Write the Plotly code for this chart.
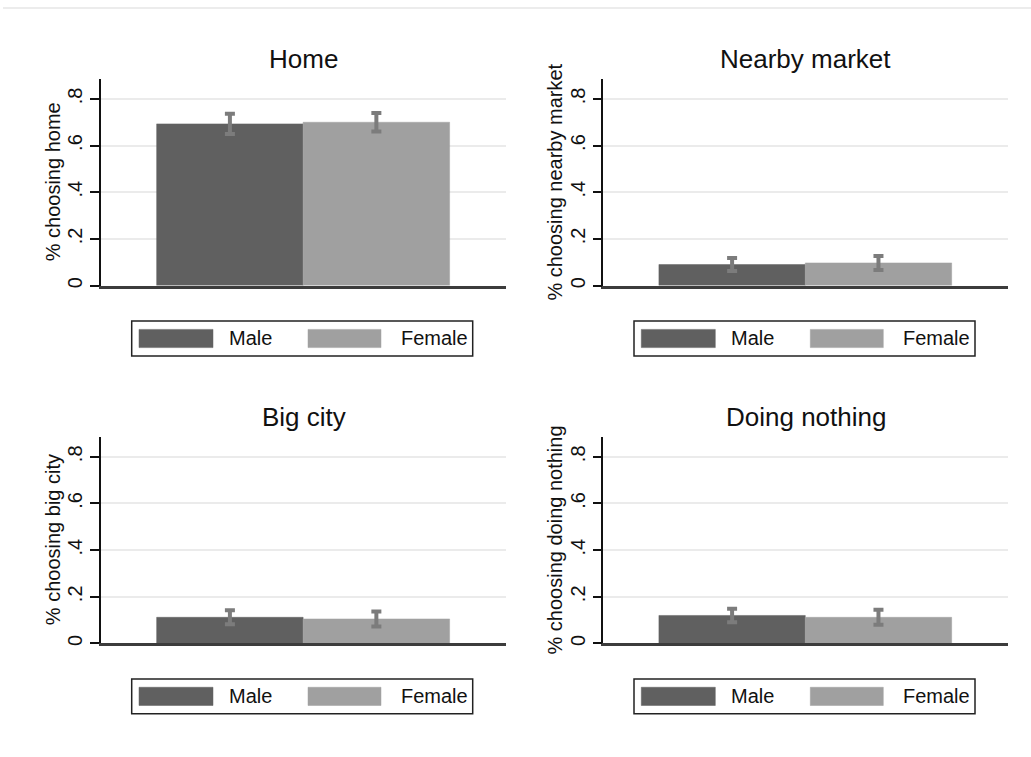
import plotly.graph_objects as go

# Share of respondents choosing each location, by sex, with 95% CI half-widths
categories = ["Home", "Nearby market", "Big city", "Doing nothing"]
y_titles = ["% choosing home", "% choosing nearby market",
            "% choosing big city", "% choosing doing nothing"]
groups = ["Male", "Female"]
male_share = [0.693, 0.090, 0.112, 0.120]
female_share = [0.700, 0.097, 0.105, 0.112]
male_ci = [0.043, 0.028, 0.030, 0.029]
female_ci = [0.040, 0.030, 0.032, 0.032]
y_ticks = [0, 0.2, 0.4, 0.6, 0.8]
y_tick_text = ["0", ".2", ".4", ".6", ".8"]

W, H = 1031, 757
colors = {"Male": "#606060", "Female": "#a0a0a0"}
err_color = "#7c7c7c"
FONT = "Liberation Sans, Arial, sans-serif"

def px_x(p):
    return p / W

def px_y(p):
    return 1 - p / H

# panel geometry (pixels): left edge of axis, zero line, top of axis
panel_left = [101, 603.3, 101, 603.3]
panel_right = [506, 1008, 506, 1008]
panel_zero = [286.7, 286.7, 646, 646]
panel_top = [79.4, 79.4, 438.7, 438.7]

fig = go.Figure()
shapes = []
annotations = []

for i, cat in enumerate(categories):
    ax = "" if i == 0 else str(i + 1)
    xref, yref = "x" + ax, "y" + ax
    for g, vals, ci in (("Male", male_share, male_ci), ("Female", female_share, female_ci)):
        fig.add_trace(go.Bar(
            x=[groups.index(g)], y=[vals[i]], width=[1.0],
            name=g, showlegend=False,
            marker=dict(color=colors[g], line=dict(color=colors[g], width=0.5)),
            error_y=dict(type="data", array=[ci[i]], visible=True,
                         color=err_color, thickness=4, width=5),
            xaxis=xref, yaxis=yref,
        ))

    xd = [px_x(panel_left[i]), px_x(panel_right[i])]
    yd = [px_y(panel_zero[i]), px_y(panel_top[i])]
    fig.layout["xaxis" + ax] = dict(
        domain=xd, range=[-0.88, 1.885], showticklabels=False, ticks="",
        showgrid=False, zeroline=False, showline=True,
        linecolor="#3c3c3c", linewidth=2.5, fixedrange=True,
        anchor=yref,
    )
    fig.layout["yaxis" + ax] = dict(
        domain=yd, range=[0, 0.885], tickvals=y_ticks, ticktext=y_tick_text,
        tickangle=-90, ticks="outside", ticklen=9, tickwidth=1.5,
        tickcolor="#111111", showline=True, linecolor="#111111", linewidth=1.5,
        showgrid=True, gridcolor="#ebebeb", gridwidth=1.5, zeroline=False,
        tickfont=dict(family=FONT, size=20, color="#111111"),
        anchor=xref,
    )

    # panel title
    annotations.append(dict(
        text=cat, x=(xd[0] + xd[1]) / 2, y=px_y(panel_top[i] - 20),
        xref="paper", yref="paper", showarrow=False, xanchor="center",
        yanchor="middle", font=dict(family=FONT, size=26, color="#111111"),
    ))
    # y-axis title
    annotations.append(dict(
        text=y_titles[i], x=px_x(panel_left[i] - 48),
        y=(yd[0] + yd[1]) / 2, xref="paper", yref="paper", showarrow=False,
        textangle=-90, xanchor="center", yanchor="middle",
        font=dict(family=FONT, size=20, color="#111111"),
    ))

    # legend box below each panel
    ax0 = panel_left[i]
    y0 = panel_zero[i] + 35.6
    y1 = panel_zero[i] + 70.6
    shapes.append(dict(type="rect", xref="paper", yref="paper",
                       x0=px_x(ax0 + 30.7), x1=px_x(ax0 + 371.7),
                       y0=px_y(y1), y1=px_y(y0),
                       line=dict(color="#222222", width=1.5), fillcolor="white"))
    sw_y0 = panel_zero[i] + 44
    sw_y1 = panel_zero[i] + 62.3
    for g, sx0, sx1, tx in (("Male", 38, 112, 126), ("Female", 207, 280, 298)):
        shapes.append(dict(type="rect", xref="paper", yref="paper",
                           x0=px_x(ax0 + sx0), x1=px_x(ax0 + sx1),
                           y0=px_y(sw_y1), y1=px_y(sw_y0),
                           line=dict(color=colors[g], width=0.5),
                           fillcolor=colors[g]))
        annotations.append(dict(
            text=g, x=px_x(ax0 + tx), y=px_y((y0 + y1) / 2),
            xref="paper", yref="paper", showarrow=False,
            xanchor="left", yanchor="middle",
            font=dict(family=FONT, size=20, color="#111111"),
        ))

# faint frame line along the top of the graph region
shapes.append(dict(type="line", xref="paper", yref="paper",
                   x0=px_x(3), x1=1, y0=px_y(8), y1=px_y(8),
                   line=dict(color="#ececec", width=2)))

fig.update_layout(
    width=W, height=H, margin=dict(l=0, r=0, t=0, b=0),
    paper_bgcolor="white", plot_bgcolor="white",
    barmode="overlay", showlegend=False,
    shapes=shapes, annotations=annotations,
    font=dict(family=FONT),
)

fig.write_html("out.html")
